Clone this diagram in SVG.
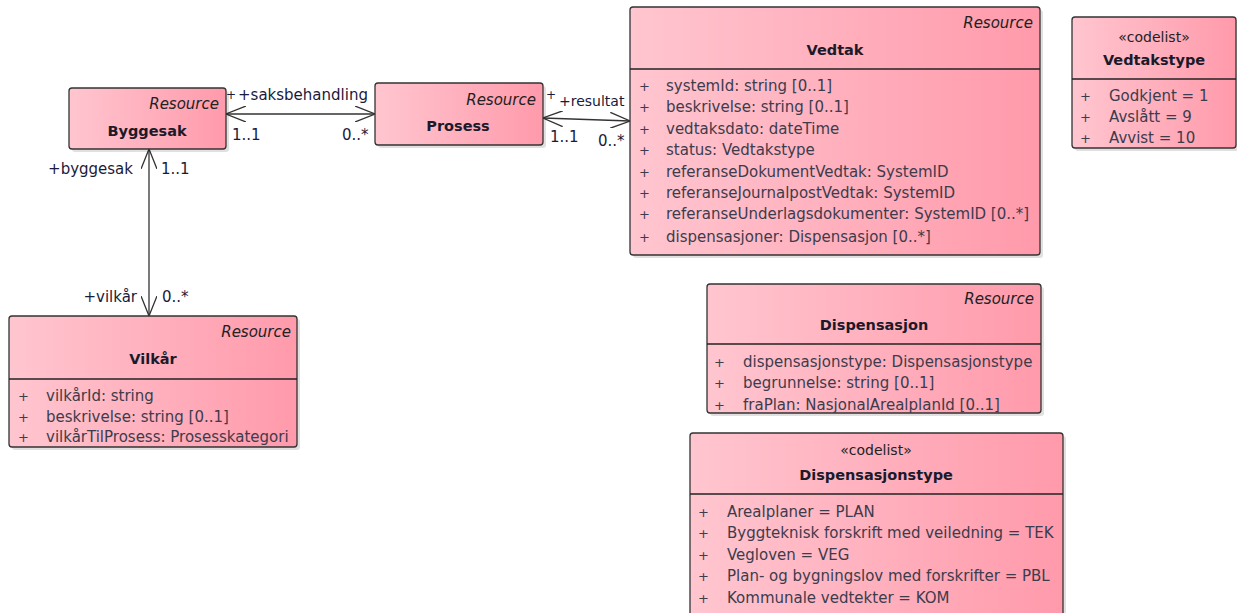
<svg xmlns="http://www.w3.org/2000/svg" width="1237" height="613" viewBox="0 0 1237 613">
<style>
.box{fill:url(#pink);stroke:#333;stroke-width:1.3}
.sh{fill:#000;opacity:0.12}
.div{stroke:#222;stroke-width:1.3}
text{font-family:"DejaVu Sans",Verdana,sans-serif;font-size:15px;fill:#2a2a3a}
.res{font-style:italic;text-anchor:end;fill:#222}
.ttl{font-weight:bold;font-size:14.5px;text-anchor:middle;fill:#1a1a2a}
.st{text-anchor:middle;font-size:14px;fill:#222}
.att{fill:#3c3c4c}
.pl{fill:#3c3c4c;font-size:13px}
.lbl{fill:#1a1a3a}
.sm{fill:#1a1a3a;font-size:12px}
.con{stroke:#333;stroke-width:1.3;fill:none;marker-start:url(#open);marker-end:url(#open)}
</style>
<defs>
<linearGradient id="pink" x1="0" y1="0" x2="1" y2="0">
<stop offset="0" stop-color="#ffc6d0"/>
<stop offset="1" stop-color="#ff9aab"/>
</linearGradient>
<marker id="open" viewBox="0 0 20 16" refX="20" refY="8" markerWidth="20" markerHeight="16" markerUnits="userSpaceOnUse" orient="auto-start-reverse">
<path d="M0,0 L20,8 L0,16" fill="none" stroke="#333" stroke-width="1.3"/>
</marker>
</defs>
<rect width="1237" height="613" fill="#fff"/>

<g id="connectors">
<line class="con" x1="226" y1="114" x2="375" y2="114"/>
<line class="con" x1="543" y1="118" x2="630" y2="121"/>
<line class="con" x1="149" y1="149" x2="149" y2="316"/>
<text class="sm" x="226" y="99">+</text>
<text class="lbl" x="238" y="100">+saksbehandling</text>
<text class="lbl" x="232" y="140">1..1</text>
<text class="lbl" x="342" y="140">0..*</text>
<text class="sm" x="546" y="99">+</text>
<text class="lbl" x="559" y="106" style="font-size:14px">+resultat</text>
<text class="lbl" x="550" y="142">1..1</text>
<text class="lbl" x="598" y="146">0..*</text>
<text class="lbl" x="133" y="174" text-anchor="end">+byggesak</text>
<text class="lbl" x="161" y="174">1..1</text>
<text class="lbl" x="137" y="302" text-anchor="end">+vilkår</text>
<text class="lbl" x="162" y="302">0..*</text>
</g>

<g id="Byggesak">
<rect class="sh" x="72" y="91" width="157" height="61" rx="3"/>
<rect class="box" x="69" y="88" width="157" height="61" rx="3"/>
<text class="res" x="219" y="109">Resource</text>
<text class="ttl" x="147" y="136">Byggesak</text>
</g>

<g id="Prosess">
<rect class="sh" x="378" y="86" width="168" height="62" rx="3"/>
<rect class="box" x="375" y="83" width="168" height="62" rx="3"/>
<text class="res" x="536" y="105">Resource</text>
<text class="ttl" x="458" y="131">Prosess</text>
</g>

<g id="Vedtak">
<rect class="sh" x="633" y="10" width="410" height="248" rx="3"/>
<rect class="box" x="630" y="7" width="410" height="248" rx="3"/>
<text class="res" x="1033" y="28">Resource</text>
<text class="ttl" x="835" y="55">Vedtak</text>
<line class="div" x1="630" y1="69" x2="1040" y2="69"/>
<text class="pl" x="639" y="91">+</text><text class="att" x="666" y="91">systemId: string [0..1]</text>
<text class="pl" x="639" y="112">+</text><text class="att" x="666" y="112">beskrivelse: string [0..1]</text>
<text class="pl" x="639" y="134">+</text><text class="att" x="666" y="134">vedtaksdato: dateTime</text>
<text class="pl" x="639" y="155">+</text><text class="att" x="666" y="155">status: Vedtakstype</text>
<text class="pl" x="639" y="177">+</text><text class="att" x="666" y="177">referanseDokumentVedtak: SystemID</text>
<text class="pl" x="639" y="198">+</text><text class="att" x="666" y="198">referanseJournalpostVedtak: SystemID</text>
<text class="pl" x="639" y="219">+</text><text class="att" x="666" y="219">referanseUnderlagsdokumenter: SystemID [0..*]</text>
<text class="pl" x="639" y="242">+</text><text class="att" x="666" y="242">dispensasjoner: Dispensasjon [0..*]</text>
</g>

<g id="Vedtakstype">
<rect class="sh" x="1075" y="20" width="164" height="131" rx="3"/>
<rect class="box" x="1072" y="17" width="164" height="131" rx="3"/>
<text class="st" x="1154" y="42">«codelist»</text>
<text class="ttl" x="1154" y="65">Vedtakstype</text>
<line class="div" x1="1072" y1="79" x2="1236" y2="79"/>
<text class="pl" x="1080" y="101">+</text><text class="att" x="1109" y="101">Godkjent = 1</text>
<text class="pl" x="1080" y="122">+</text><text class="att" x="1109" y="122">Avslått = 9</text>
<text class="pl" x="1080" y="143">+</text><text class="att" x="1109" y="143">Avvist = 10</text>
</g>

<g id="Vilkar">
<rect class="sh" x="12" y="319" width="288" height="131" rx="3"/>
<rect class="box" x="9" y="316" width="288" height="131" rx="3"/>
<text class="res" x="291" y="337">Resource</text>
<text class="ttl" x="153" y="364">Vilkår</text>
<line class="div" x1="9" y1="379" x2="297" y2="379"/>
<text class="pl" x="18" y="401">+</text><text class="att" x="46" y="401">vilkårId: string</text>
<text class="pl" x="18" y="422">+</text><text class="att" x="46" y="422">beskrivelse: string [0..1]</text>
<text class="pl" x="18" y="442">+</text><text class="att" x="46" y="442">vilkårTilProsess: Prosesskategori</text>
</g>

<g id="Dispensasjon">
<rect class="sh" x="710" y="287" width="334" height="129" rx="3"/>
<rect class="box" x="707" y="284" width="334" height="129" rx="3"/>
<text class="res" x="1034" y="304">Resource</text>
<text class="ttl" x="874" y="330">Dispensasjon</text>
<line class="div" x1="707" y1="344" x2="1041" y2="344"/>
<text class="pl" x="714" y="367">+</text><text class="att" x="743" y="367">dispensasjonstype: Dispensasjonstype</text>
<text class="pl" x="714" y="388">+</text><text class="att" x="743" y="388">begrunnelse: string [0..1]</text>
<text class="pl" x="714" y="410">+</text><text class="att" x="743" y="410">fraPlan: NasjonalArealplanId [0..1]</text>
</g>

<g id="Dispensasjonstype">
<rect class="sh" x="693" y="436" width="373" height="200" rx="3"/>
<rect class="box" x="690" y="433" width="373" height="200" rx="3"/>
<text class="st" x="876" y="455">«codelist»</text>
<text class="ttl" x="876" y="480">Dispensasjonstype</text>
<line class="div" x1="690" y1="494" x2="1063" y2="494"/>
<text class="pl" x="698" y="517">+</text><text class="att" x="727" y="517">Arealplaner = PLAN</text>
<text class="pl" x="698" y="538">+</text><text class="att" x="727" y="538">Byggteknisk forskrift med veiledning = TEK</text>
<text class="pl" x="698" y="560">+</text><text class="att" x="727" y="560">Vegloven = VEG</text>
<text class="pl" x="698" y="581">+</text><text class="att" x="727" y="581">Plan- og bygningslov med forskrifter = PBL</text>
<text class="pl" x="698" y="603">+</text><text class="att" x="727" y="603">Kommunale vedtekter = KOM</text>
</g>
</svg>
